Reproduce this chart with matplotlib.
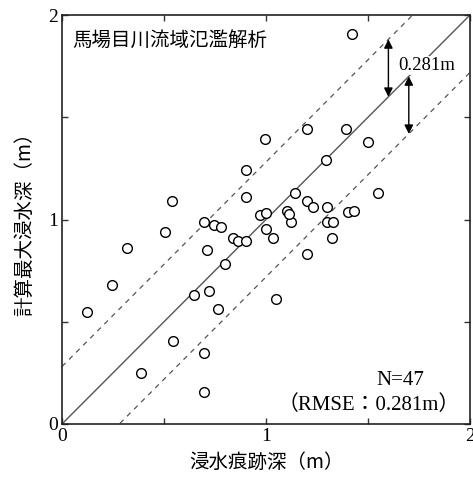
import numpy as np
import matplotlib
matplotlib.use('Agg')
import matplotlib.pyplot as plt

plt.rcParams['font.family'] = ['Noto Sans CJK JP', 'DejaVu Sans']

# 浸水痕跡深 (観測) と 計算最大浸水深
obs = [1.422, 1.201, 1.392, 0.995, 1.500, 0.902, 1.294, 0.902, 1.142, 1.549,
       0.539, 1.201, 1.230, 1.299, 1.402, 1.431, 0.971, 1.000, 1.103, 1.123,
       1.299, 1.328, 0.696, 0.745, 0.779, 0.505, 1.000, 1.034, 0.838, 0.863,
       0.902, 1.324, 0.319, 0.711, 1.201, 0.799, 0.245, 0.647, 0.721, 1.049,
       0.765, 0.123, 0.544, 0.696, 0.387, 0.696, 1.113]
calc = [1.907, 1.443, 1.443, 1.394, 1.379, 1.242, 1.291, 1.110, 1.130, 1.130,
        1.090, 1.090, 1.061, 1.061, 1.037, 1.042, 1.022, 1.032, 1.042, 0.988,
        0.990, 0.990, 0.988, 0.973, 0.963, 0.939, 0.954, 0.910, 0.910, 0.895,
        0.895, 0.910, 0.861, 0.851, 0.831, 0.782, 0.680, 0.631, 0.650, 0.611,
        0.562, 0.548, 0.406, 0.347, 0.249, 0.156, 1.027]
rmse = 0.281
lim = np.array([0.0, 2.0])
ticks = [0, 1, 2]
minor_ticks = [0.5, 1.5]

serif = ['Liberation Serif', 'Noto Sans CJK JP']

fig = plt.figure(figsize=(4.73, 4.79), dpi=100)
ax = fig.add_axes([62 / 473, 55 / 479, 408 / 473, 409 / 479])

ax.plot(lim, lim, color='#555555', lw=1.0, zorder=2)
ax.plot(lim, lim + rmse, color='#555555', lw=0.9, ls=(0, (4, 4)), zorder=2)
ax.plot(lim, lim - rmse, color='#555555', lw=0.9, ls=(0, (4, 4)), zorder=2)

ax.plot(obs, calc, 'o', ms=7, mfc='white', mec='black', mew=1.0, zorder=4)

# 0.281m の矢印
ax.annotate('', xy=(1.6, 1.6 + rmse), xytext=(1.6, 1.6),
            arrowprops=dict(arrowstyle='<|-|>', color='black', lw=1.0,
                            mutation_scale=13, shrinkA=0, shrinkB=0), zorder=6)
ax.annotate('', xy=(1.7, 1.7 - rmse), xytext=(1.7, 1.7),
            arrowprops=dict(arrowstyle='<|-|>', color='black', lw=1.0,
                            mutation_scale=13, shrinkA=0, shrinkB=0), zorder=6)
ax.text(1.647, 1.755, f'{rmse}m', family=serif, fontsize=13.5, va='center',
        ha='left', zorder=5,
        bbox=dict(boxstyle='square,pad=0.05', fc='white', ec='none'))

ax.text(0.025, 0.939, '馬場目川流域氾濫解析', transform=ax.transAxes,
        fontsize=14, va='center', ha='left')
ax.text(1.66, 0.213, f'N={len(obs)}', family=serif, fontsize=15,
        ha='center', va='center')
ax.text(1.503, 0.093, f'（RMSE：{rmse}m）', family=serif, fontsize=15,
        ha='center', va='center')

ax.set_xlim(lim)
ax.set_ylim(lim)
ax.set_xticks(ticks)
ax.set_yticks(ticks)
ax.set_xticks(minor_ticks, minor=True)
ax.set_yticks(minor_ticks, minor=True)
ax.tick_params(which='both', direction='in', top=True, right=True,
               length=4, width=1.0, color='#333333')
ax.tick_params(which='major', labelsize=14, pad=3)
for lab in ax.get_xticklabels() + ax.get_yticklabels():
    lab.set_family(serif)

for sp in ax.spines.values():
    sp.set_color('#222222')
    sp.set_linewidth(1.2)

ax.set_xlabel('浸水痕跡深（m）', fontsize=14, labelpad=5)
ax.set_ylabel('計算最大浸水深（m）', fontsize=14, labelpad=9)

fig.savefig('out.png', dpi=100)
